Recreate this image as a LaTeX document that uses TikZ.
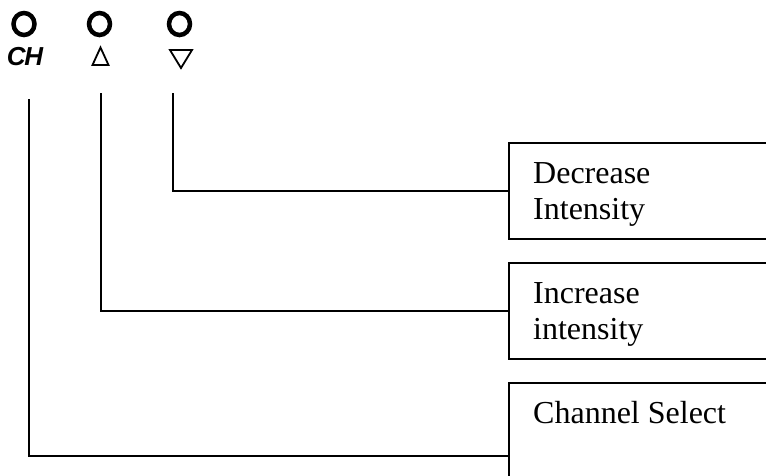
\documentclass[tikz,border=0pt]{standalone}
\usepackage{fontspec}
\usetikzlibrary{shapes.geometric}
\setmainfont{Liberation Serif}
\newfontfamily\iconfont{Liberation Sans}
\begin{document}
\begin{tikzpicture}[x=1pt,y=-1pt,
  conn/.style={line width=2pt},
  labelbox/.style={draw,line width=2pt,minimum width=280pt,anchor=north west,inner sep=0pt},
  labeltext/.style={anchor=base west,inner sep=0pt,font=\fontsize{32}{37}\selectfont},
  knob/.style={ellipse,draw,line width=4.5pt,minimum width=21pt,minimum height=22pt,inner sep=0pt},
  tri/.style={line width=1.8pt,line join=miter}]
\useasboundingbox (0,0) rectangle (766,475);
% knobs
\node[knob] (k1) at (24,24) {};
\node[knob] (k2) at (99.5,24) {};
\node[knob] (k3) at (179.5,24) {};
\node[inner sep=0pt] (ch) at (25,57) {\iconfont\bfseries\itshape\fontsize{26}{26}\selectfont C\kern-1.5pt H};
\draw[tri] (92.5,65) -- (108.5,65) -- (100.5,47.5) -- cycle;
\draw[tri] (170,50) -- (192,50) -- (181,68) -- cycle;
% boxes
\node[labelbox,minimum height=96pt] (b1) at (508,142) {};
\node[labelbox,minimum height=96pt] (b2) at (508,262) {};
\node[labelbox,minimum height=146pt] (b3) at (508,382) {};
\node[labeltext] (t1a) at (533,183) {Decrease};
\node[labeltext] (t1b) at (533,219) {Intensity};
\node[labeltext] (t2a) at (533,303) {Increase};
\node[labeltext] (t2b) at (533,339) {intensity};
\node[labeltext] (t3) at (533,423) {Channel Select};
% connectors
\coordinate (s3) at (173,93);
\coordinate (s2) at (101,93);
\coordinate (s1) at (29,99);
\draw[conn] (s3) |- (b1.west);
\draw[conn] (s2) |- (b2.west);
\draw[conn] (s1) |- (b3.west);
\end{tikzpicture}
\end{document}
